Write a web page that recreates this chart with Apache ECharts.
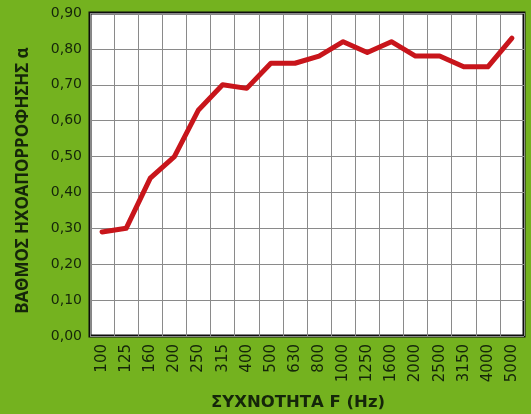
<!DOCTYPE html>
<html>
<head>
<meta charset="utf-8">
<script src="https://cdn.jsdelivr.net/npm/echarts@6/dist/echarts.min.js"></script>
<style>
  html, body { margin: 0; padding: 0; background: #74b21f; }
  #main { width: 531px; height: 414px; }
</style>
</head>
<body>
<div id="main"></div>
<script>
// frequency bands (Hz)
var freqs = ['100','125','160','200','250','315','400','500','630','800','1000','1250','1600','2000','2500','3150','4000','5000'];
// sound absorption coefficient
var alpha = [0.29,0.30,0.44,0.50,0.63,0.70,0.69,0.76,0.76,0.78,0.82,0.79,0.82,0.78,0.78,0.75,0.75,0.83];

var txt = '#15260a';
var font = '"DejaVu Sans", sans-serif';

var myChart = echarts.init(document.getElementById('main'));
var option = {
    backgroundColor: '#74b21f',
    animation: false,
    grid: {
        left: 90, right: 7, top: 13, bottom: 78,
        outerBoundsMode: 'none',
        show: true, borderColor: '#0d0d0d', borderWidth: 3, backgroundColor: '#ffffff'
    },
    xAxis: {
        type: 'category',
        data: freqs,
        boundaryGap: true,
        name: 'ΣΥΧΝΟΤΗΤΑ F (Hz)',
        nameLocation: 'middle',
        nameGap: 58,
        nameTextStyle: { color: txt, fontSize: 16.5, fontWeight: 'bold', fontFamily: font, padding: [0, 18, 0, 0] },
        axisLine: { show: false },
        axisTick: { show: false },
        axisLabel: { rotate: 90, interval: 0, color: txt, fontSize: 15, fontFamily: font, margin: 8 },
        splitLine: { show: true, interval: 0, lineStyle: { color: '#8a8a8a', width: 1 } }
    },
    yAxis: {
        type: 'value',
        min: 0, max: 0.9, interval: 0.1,
        name: 'ΒΑΘΜΟΣ ΗΧΟΑΠΟΡΡΟΦΗΣΗΣ α',
        nameLocation: 'middle',
        nameRotate: 90,
        nameGap: 58,
        nameTextStyle: { color: txt, fontSize: 17, fontWeight: 'bold', fontFamily: '"Noto Sans", sans-serif', padding: [0, 12, 0, 0] },
        axisLine: { show: false },
        axisTick: { show: false },
        axisLabel: {
            color: txt, fontSize: 14, fontFamily: font, margin: 8,
            formatter: function (v) { return v.toFixed(2).replace('.', ','); }
        },
        splitLine: { show: true, lineStyle: { color: '#8a8a8a', width: 1 } }
    },
    series: [{
        type: 'line',
        data: alpha,
        symbol: 'none',
        lineStyle: { color: '#c8151b', width: 5, join: 'round', cap: 'round' }
    }]
};
myChart.setOption(option);
</script>
</body>
</html>
